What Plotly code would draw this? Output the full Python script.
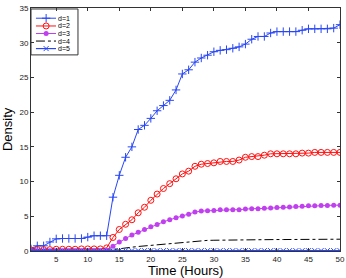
import plotly.graph_objects as go

hours = list(range(1, 51))

d1 = [0.3, 0.75, 0.75, 1.3, 1.75, 1.8, 1.8, 1.8, 1.8, 2.0,
      2.2, 2.2, 2.2, 7.75, 10.9, 13.5, 15.0, 17.5, 18.1, 19.1,
      20.2, 20.95, 21.7, 23.2, 25.5, 26.1, 27.2, 27.8, 28.2, 28.7,
      28.9, 29.0, 29.2, 29.4, 29.8, 30.5, 30.9, 30.9, 31.4, 31.6,
      31.6, 31.6, 31.6, 31.8, 32.0, 32.0, 32.0, 32.0, 32.1, 32.6]

d2 = [0.15, 0.2, 0.2, 0.2, 0.25, 0.25, 0.25, 0.25, 0.3, 0.3,
      0.3, 0.3, 0.45, 1.95, 3.1, 3.85, 4.5, 5.5, 6.3, 7.3,
      8.2, 9.0, 9.7, 10.4, 11.1, 11.5, 12.2, 12.5, 12.6, 12.7,
      12.9, 12.9, 12.9, 13.1, 13.5, 13.6, 13.6, 13.8, 14.0, 14.0,
      14.0, 14.0, 14.0, 14.1, 14.1, 14.2, 14.2, 14.2, 14.2, 14.2]

d3 = [0.05, 0.05, 0.05, 0.05, 0.05, 0.05, 0.05, 0.05, 0.05, 0.05,
      0.05, 0.05, 0.1, 0.7, 1.3, 1.8, 2.3, 2.7, 3.1, 3.5,
      3.8, 4.2, 4.5, 4.8, 5.05, 5.3, 5.6, 5.75, 5.8, 5.85,
      5.95, 5.95, 5.95, 5.95, 6.05, 6.1, 6.1, 6.15, 6.2, 6.25,
      6.3, 6.35, 6.4, 6.45, 6.5, 6.5, 6.55, 6.55, 6.6, 6.6]

d4 = [0.0, 0.0, 0.0, 0.0, 0.0, 0.0, 0.0, 0.0, 0.0, 0.0,
      0.0, 0.0, 0.05, 0.2, 0.35, 0.45, 0.55, 0.65, 0.73, 0.8,
      0.9, 1.0, 1.1, 1.18, 1.25, 1.35, 1.45, 1.5, 1.53, 1.55,
      1.57, 1.58, 1.59, 1.6, 1.6, 1.61, 1.62, 1.63, 1.64, 1.65,
      1.65, 1.66, 1.66, 1.67, 1.67, 1.68, 1.68, 1.68, 1.69, 1.7]

d5 = [0.05] * 50

series_names = ["d=1", "d=2", "d=3", "d=4", "d=5"]
x_ticks = [5, 10, 15, 20, 25, 30, 35, 40, 45, 50]
y_ticks = [0, 5, 10, 15, 20, 25, 30, 35]

BLUE = "#2846f5"
styles = [
    dict(mode="lines+markers", line=dict(color=BLUE, width=1),
         marker=dict(symbol="cross-thin", size=6, line=dict(color=BLUE, width=1))),
    dict(mode="lines+markers", line=dict(color="#ff1010", width=1),
         marker=dict(symbol="circle-open", size=6, color="#ff1010", line=dict(width=1))),
    dict(mode="lines+markers", line=dict(color="#c040f0", width=1),
         marker=dict(symbol="circle", size=5, color="#c040f0")),
    dict(mode="lines", line=dict(color="#000000", width=1, dash="dashdot")),
    dict(mode="lines+markers", line=dict(color=BLUE, width=1.2),
         marker=dict(symbol="x-thin", size=5, line=dict(color=BLUE, width=1))),
]

FONT = "Liberation Sans, Arial"
fig = go.Figure()
for name, vals, st in zip(series_names, [d1, d2, d3, d4, d5], styles):
    fig.add_trace(go.Scatter(x=hours, y=vals, name=name, showlegend=False, **st))

# custom compact legend (glyphs on an overlay axis spanning the plot area, 0..1)
leg_y = [0.958, 0.926, 0.895, 0.864, 0.833]
for name, yy, st in zip(series_names, leg_y, styles):
    st2 = dict(st)
    st2["mode"] = "lines"
    fig.add_trace(go.Scatter(x=[0.016, 0.081], y=[yy, yy], xaxis="x2", yaxis="y2",
                             showlegend=False, hoverinfo="skip", **st2))
    if "markers" in st["mode"]:
        fig.add_trace(go.Scatter(x=[0.049], y=[yy], xaxis="x2", yaxis="y2", mode="markers",
                                 marker=st["marker"], showlegend=False, hoverinfo="skip"))
    fig.add_annotation(x=0.084, y=yy, xref="x2", yref="y2", text=name, showarrow=False,
                       xanchor="left", yanchor="middle", borderpad=0,
                       font=dict(family=FONT, size=7, color="#000"))

fig.add_shape(type="rect", xref="x2", yref="y2", x0=0.0, x1=0.152, y0=0.807, y1=0.996,
              line=dict(color="#333333", width=1), fillcolor="white", layer="below")

axis_common = dict(showline=True, linecolor="#333333", linewidth=1, mirror="ticks",
                   ticks="inside", ticklen=3, tickcolor="#333333", showgrid=False,
                   zeroline=False, automargin=False,
                   tickfont=dict(family=FONT, size=8, color="#222222"))

fig.update_layout(
    width=346, height=278,
    margin=dict(l=31, r=6, t=8, b=27),
    paper_bgcolor="white", plot_bgcolor="white",
    xaxis=dict(range=[1, 50], tickvals=x_ticks, **axis_common),
    yaxis=dict(range=[0, 35], tickvals=y_ticks, **axis_common),
    xaxis2=dict(range=[0, 1], overlaying="x", visible=False, fixedrange=True),
    yaxis2=dict(range=[0, 1], overlaying="y", visible=False, fixedrange=True),
    showlegend=False,
)
fig.add_annotation(text="Time (Hours)", xref="paper", yref="paper", x=0.5, y=-0.04,
                   xanchor="center", yanchor="top", showarrow=False,
                   font=dict(family=FONT, size=13, color="#000"))
fig.add_annotation(text="Density", xref="paper", yref="paper", x=-0.045, y=0.5,
                   xanchor="right", yanchor="middle", textangle=-90, showarrow=False,
                   font=dict(family=FONT, size=13, color="#000"))

fig.write_html("out.html", config={"displayModeBar": False},
               post_script="document.body.style.margin='0px';")
